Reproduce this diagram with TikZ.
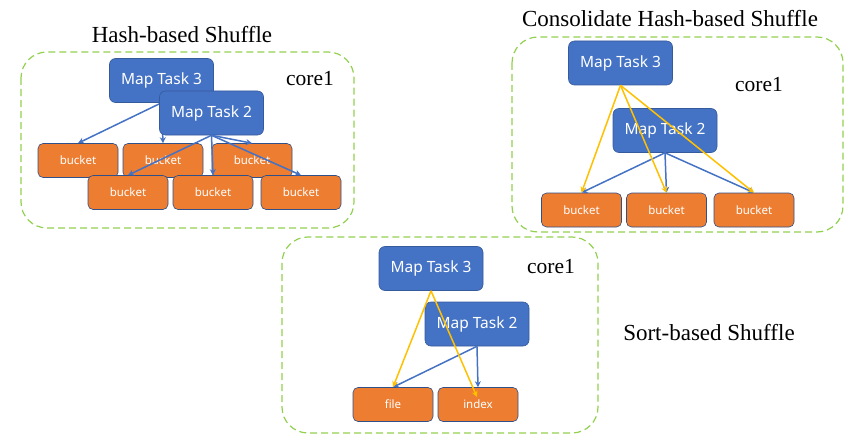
\documentclass[tikz,border=0pt]{standalone}
\usepackage{fontspec}
\setmainfont{Liberation Serif}
\newfontfamily\boxfont{Noto Sans}
\usetikzlibrary{arrows.meta}
\definecolor{taskblue}{HTML}{4472C4}
\definecolor{bucketorange}{HTML}{ED7D31}
\definecolor{coregreen}{HTML}{92D050}
\definecolor{arrowyellow}{HTML}{FFC000}
\pgfdeclarelayer{bg}
\pgfsetlayers{bg,main}
\tikzset{
  maptask/.style={fill=taskblue, draw=taskblue!80!black, line width=0.6pt, rounded corners=6pt,
    minimum width=104pt, minimum height=44pt, text=white, font=\boxfont\fontsize{15.5}{18}\selectfont},
  bucket/.style={fill=bucketorange, draw=taskblue!70!black, line width=0.6pt, rounded corners=5pt,
    minimum width=80pt, minimum height=34pt, text=white, font=\boxfont\fontsize{11.5}{14}\selectfont},
  corebox/.style={draw=coregreen, dash pattern=on 7pt off 4pt, line width=1.2pt, rounded corners=26pt},
  title/.style={font=\fontsize{23}{27}\selectfont},
  corelabel/.style={font=\fontsize{21.5}{25}\selectfont},
  blueflow/.style={draw=taskblue, line width=1.5pt, -{Stealth[length=6pt,width=6pt]}},
  yellowflow/.style={draw=arrowyellow, line width=1.5pt, -{Stealth[length=6pt,width=6pt]}}
}
\begin{document}
\begin{tikzpicture}[x=1pt,y=-1pt]
  \useasboundingbox (0,0) rectangle (857,444);

  % Hash-based Shuffle
  \node[title] (t1) at (182,35) {Hash-based Shuffle};
  \draw[corebox] (21,52) rectangle (354,228);
  \node[corelabel] (c1) at (310,79) {core1};
  \node[bucket] (a) at (78,160.5) {bucket};
  \node[bucket] (b) at (163,160.5) {bucket};
  \node[bucket] (c) at (252,160.5) {bucket};
  \node[bucket] (d) at (128,192.5) {bucket};
  \node[bucket] (e) at (213,192.5) {bucket};
  \node[bucket] (f) at (301,192.5) {bucket};
  \node[maptask] (m3) at (161.5,80.5) {Map Task 3};
  \node[maptask] (m2) at (211.5,113) {Map Task 2};
  \begin{pgfonlayer}{bg}
    \draw[blueflow] (m3.south) -- (a.north);
    \draw[blueflow] (m3.south) -- (b.north);
  \end{pgfonlayer}
  \draw[blueflow] (m2.south) -- (c.north);
  \draw[blueflow] (m2.south) -- (d.north);
  \draw[blueflow] (m2.south) -- (e.north);
  \draw[blueflow] (m2.south) -- (f.north);

  % Consolidate Hash-based Shuffle
  \node[title] (t2) at (670,19) {Consolidate Hash-based Shuffle};
  \draw[corebox] (512,37) rectangle (843,232);
  \node[corelabel] (c2) at (759,85) {core1};
  \node[maptask] (n3) at (620.5,63) {Map Task 3};
  \node[maptask] (n2) at (665,130.5) {Map Task 2};
  \node[bucket] (g) at (581.5,210) {bucket};
  \node[bucket] (h) at (666.5,210) {bucket};
  \node[bucket] (k) at (754,210) {bucket};
  \draw[blueflow] (n2.south) -- (g.north);
  \draw[blueflow] (n2.south) -- (h.north);
  \draw[blueflow] (n2.south) -- (k.north);
  \draw[yellowflow] (n3.south) -- (g.north);
  \draw[yellowflow] (n3.south) -- (h.north);
  \draw[yellowflow] (n3.south) -- (k.north);

  % Sort-based Shuffle
  \draw[corebox] (282,237) rectangle (598,433);
  \node[corelabel] (c3) at (551,267) {core1};
  \node[title] (t3) at (709,333) {Sort-based Shuffle};
  \node[maptask] (s3) at (431,268.5) {Map Task 3};
  \node[maptask] (s2) at (477,324) {Map Task 2};
  \node[bucket] (file) at (393,404.5) {file};
  \node[bucket] (index) at (478,404.5) {index};
  \coordinate (idxin) at (477,397);
  \draw[blueflow] (s2.south) -- (file.north);
  \draw[blueflow] (s2.south) -- (index.north);
  \draw[yellowflow] (s3.south) -- (file.north);
  \draw[yellowflow] (s3.south) -- (idxin);
\end{tikzpicture}
\end{document}
